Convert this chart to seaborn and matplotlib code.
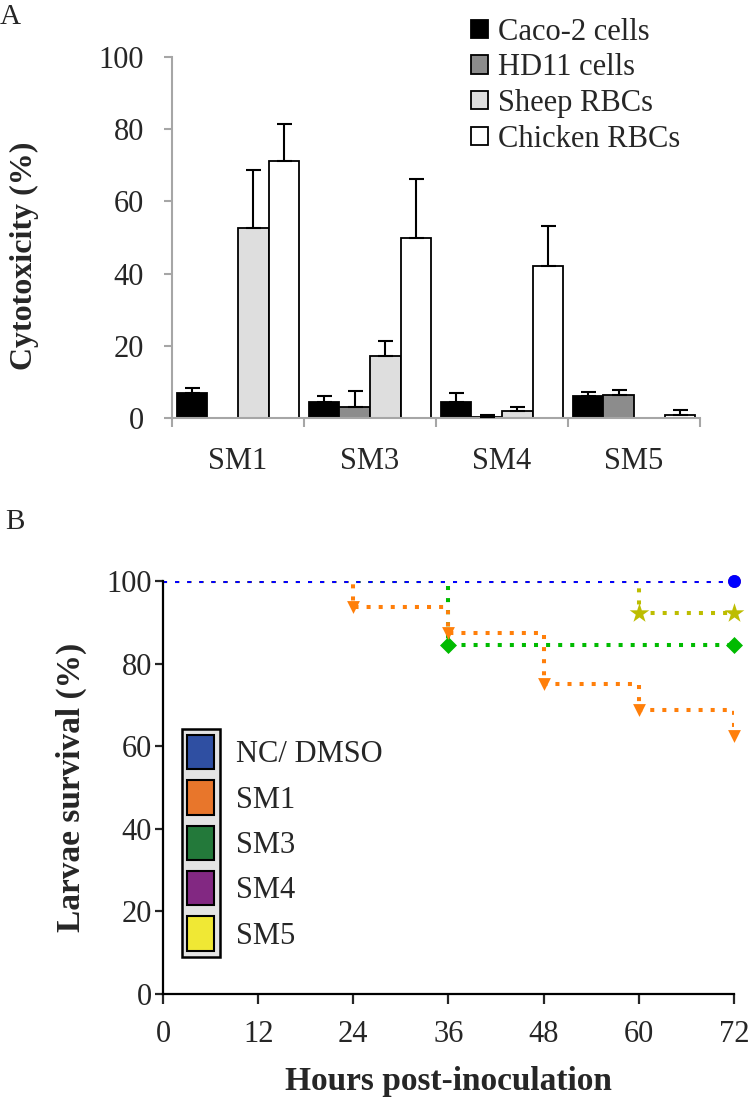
import matplotlib
matplotlib.use("Agg")
import matplotlib.pyplot as plt
import seaborn as sns
import pandas as pd
from matplotlib.patches import Patch, Rectangle
from matplotlib.transforms import Bbox

# ---------------- panel A data (cytotoxicity, %) ----------------
compounds = ["SM1", "SM3", "SM4", "SM5"]
cell_types = ["Caco-2 cells", "HD11 cells", "Sheep RBCs", "Chicken RBCs"]
caco2 = [6.8, 4.4, 4.4, 6.0]
caco2_err = [1.4, 1.8, 2.4, 1.3]
hd11 = [0.0, 3.1, 0.4, 6.4]
hd11_err = [0.0, 4.5, 0.4, 1.4]
sheep = [52.6, 17.3, 2.0, 0.0]
sheep_err = [16.2, 3.9, 0.9, 0.0]
chicken = [71.2, 49.9, 42.2, 0.7]
chicken_err = [10.2, 16.2, 10.9, 1.4]
bar_colors = ["#000000", "#8c8c8c", "#dedede", "#ffffff"]

# ---------------- panel B data (larvae survival, %) ----------------
hour_ticks = [0, 12, 24, 36, 48, 60, 72]
nc_time = [0, 72]
nc_surv = [100, 100]
sm1_time = [0, 24, 36, 48, 60, 72]
sm1_surv = [100, 93.75, 87.5, 75, 68.75, 62.5]
sm3_time = [0, 36, 72]
sm3_surv = [100, 84.6, 84.6]
sm4_time = [0, 72]
sm4_surv = [100, 100]
sm5_time = [0, 60, 72]
sm5_surv = [100, 92.3, 92.3]
group_names = ["NC/ DMSO", "SM1", "SM3", "SM4", "SM5"]
line_colors = ["#0000ff", "#ff7f0a", "#00bb00", "#7f2583", "#bdbd00"]
legend_colors = ["#2f4fa2", "#e8762b", "#23793a", "#822882", "#f0e834"]
markers = ["o", "v", "D", "o", "*"]
marker_sizes = [85, 85, 75, 85, 220]

sns.set_style("white")
plt.rcParams["font.family"] = ["Liberation Serif", "DejaVu Serif"]

fig = plt.figure(figsize=(7.5, 10.97), dpi=100)
axA = fig.add_axes([0.2293, 0.619, 0.704, 0.329])
axB = fig.add_axes([0.2173, 0.0939, 0.7613, 0.3765])

# ================= Panel A =================
vals = [caco2, hd11, sheep, chicken]
errs = [caco2_err, hd11_err, sheep_err, chicken_err]
rows = []
for cell, v in zip(cell_types, vals):
    for comp, x in zip(compounds, v):
        rows.append({"compound": comp, "cell": cell, "value": x})
dfa = pd.DataFrame(rows)

sns.barplot(data=dfa, x="compound", y="value", hue="cell", order=compounds,
            hue_order=cell_types, palette=bar_colors, edgecolor="black",
            linewidth=1.3, width=0.93, gap=0, errorbar=None, legend=False, ax=axA)

for cont, e in zip(axA.containers, errs):
    for bar, err in zip(cont, e):
        h = bar.get_height()
        if h == 0:
            bar.set_visible(False)
        if err > 0:
            axA.errorbar(bar.get_x() + bar.get_width() / 2, h, yerr=[[0], [err]],
                         fmt="none", ecolor="black", elinewidth=1.5,
                         capsize=5.4, capthick=1.5, zorder=3)

axA.set_ylim(0, 100)
axA.set_xlim(-0.5, 3.5)
axA.set_yticks([0, 20, 40, 60, 80, 100])
axA.set_xticks(range(4))
axA.set_xticklabels(compounds)
axA.set_xticks([-0.5, 0.5, 1.5, 2.5, 3.5], minor=True)
spine_gray = "#a6a6a6"
for s in ["top", "right"]:
    axA.spines[s].set_visible(False)
for s in ["left", "bottom"]:
    axA.spines[s].set_color(spine_gray)
    axA.spines[s].set_linewidth(1.5)
axA.tick_params(axis="y", direction="out", length=6, width=1.5, color=spine_gray,
                labelsize=22, pad=14, left=True)
axA.tick_params(axis="x", which="major", length=0, labelsize=22, pad=21)
axA.tick_params(axis="x", which="minor", direction="out", length=6.5, width=1.5,
                color=spine_gray, bottom=True)
axA.set_xlabel("")
axA.set_ylabel("Cytotoxicity (%)", fontsize=23, fontweight="bold")
axA.yaxis.set_label_coords(-0.252, 0.449)

handlesA = [Patch(facecolor=c, edgecolor="black", linewidth=1.3) for c in bar_colors]
axA.legend(handlesA, cell_types, loc="upper left", bbox_to_anchor=(0.628, 0.984),
           bbox_transform=fig.transFigure, frameon=False, fontsize=22,
           handlelength=0.55, handleheight=0.55, handletextpad=0.35,
           labelspacing=0.22, borderpad=0, borderaxespad=0)

fig.text(0.0, 0.996, "A", fontsize=21, va="top", ha="left")

# ================= Panel B =================
times = [nc_time, sm1_time, sm3_time, sm4_time, sm5_time]
survs = [nc_surv, sm1_surv, sm3_surv, sm4_surv, sm5_surv]
rows = []
for g, t, s in zip(group_names, times, survs):
    for ti, si in zip(t, s):
        rows.append({"group": g, "time": ti, "surv": si})
dfb = pd.DataFrame(rows)

draw_order = [3, 4, 2, 1, 0]
for k, i in enumerate(draw_order):
    g = group_names[i]
    sub = dfb[dfb["group"] == g]
    sns.lineplot(data=sub, x="time", y="surv", color=line_colors[i],
                 drawstyle="steps-post", linestyle=(0, (1, 2)), linewidth=2.9,
                 estimator=None, sort=False, ax=axB, zorder=2 + k * 0.1)
    ev = sub[sub["time"] > 0]
    sns.scatterplot(data=ev, x="time", y="surv", color=line_colors[i],
                    marker=markers[i], s=marker_sizes[i], linewidth=0,
                    clip_on=False, ax=axB, zorder=3 + k * 0.1, legend=False)

axB.set_xlim(0, 72)
axB.set_ylim(0, 100)
axB.set_xticks(hour_ticks)
axB.set_yticks([0, 20, 40, 60, 80, 100])
for s in ["top", "right"]:
    axB.spines[s].set_visible(False)
for s in ["left", "bottom"]:
    axB.spines[s].set_color("black")
    axB.spines[s].set_linewidth(1.6)
axB.tick_params(axis="y", direction="out", length=6, width=1.6, labelsize=22,
                pad=2, left=True)
axB.tick_params(axis="x", direction="out", length=7, width=1.6, labelsize=22,
                pad=12, bottom=True)
axB.set_xlabel("Hours post-inoculation", fontsize=24, fontweight="bold")
axB.xaxis.set_label_coords(0.5, -0.175)
axB.set_ylabel("Larvae survival (%)", fontsize=24, fontweight="bold")
axB.yaxis.set_label_coords(-0.133, 0.5)

handlesB = [Patch(facecolor=c, edgecolor="black", linewidth=1.5) for c in legend_colors]
legB = axB.legend(handlesB, group_names, loc="upper left",
                  bbox_to_anchor=(0.0413, 0.627), frameon=False, fontsize=22,
                  handlelength=0.91, handleheight=1.35, handletextpad=0.7,
                  labelspacing=0.36, borderpad=0, borderaxespad=0)

fig.text(0.007, 0.536, "B", fontsize=21, va="top", ha="left")

# grey box behind the legend swatches only
fig.canvas.draw()
renderer = fig.canvas.get_renderer()
bb = Bbox.union([h.get_window_extent(renderer) for h in legB.legend_handles])
bb = Bbox.from_extents(bb.x0 - 5, bb.y0 - 6, bb.x1 + 6, bb.y1 + 6)
bbf = bb.transformed(fig.transFigure.inverted())
box = Rectangle((bbf.x0, bbf.y0), bbf.width, bbf.height, transform=fig.transFigure,
                facecolor="#e4e4e4", edgecolor="black", linewidth=1.8,
                clip_on=False, zorder=4.5)
axB.add_artist(box)

fig.savefig("out.png", dpi=100)
